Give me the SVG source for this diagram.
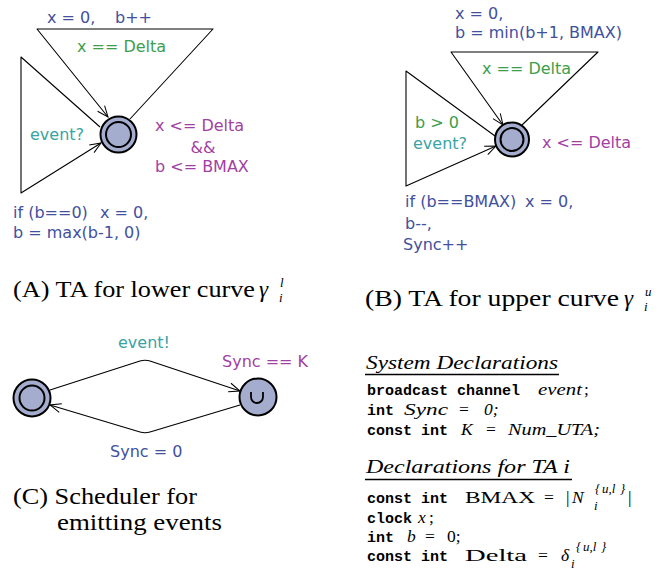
<svg xmlns="http://www.w3.org/2000/svg" width="662" height="572" viewBox="0 0 662 572">
<defs>
<marker id="arr" markerUnits="userSpaceOnUse" markerWidth="14" markerHeight="12" refX="12" refY="6" orient="auto">
<path d="M1,1.5 L12,6 L1,10.5" fill="none" stroke="#000" stroke-width="1"/>
</marker>
</defs>
<style>
.lbl{font-family:"DejaVu Sans",sans-serif;font-size:16px}
.asg{fill:#42509e}
.grd{fill:#3d9e4c}
.syn{fill:#3aa3a3}
.inv{fill:#a23fa3}
.node{fill:#a5adcf;stroke:#000;stroke-width:2}
.inner{fill:none;stroke:#000;stroke-width:2}
.edge{fill:none;stroke:#000;stroke-width:1.1;stroke-linejoin:round}
.cap{font-family:"Liberation Serif",serif;font-size:23px;fill:#000}
.hd{font-family:"Liberation Serif",serif;font-style:italic;font-size:19px;fill:#000}
.mono{font-family:"Liberation Mono",monospace;font-size:15px;font-weight:bold;fill:#000}
.mi{font-family:"Liberation Serif",serif;font-style:italic;font-size:17.5px;fill:#000}
.rm{font-family:"Liberation Serif",serif;font-size:17.5px;fill:#000}
.sup{font-family:"Liberation Serif",serif;font-style:italic;font-size:13px;fill:#000}
</style>

<g id="connectors">
<path class="edge" d="M130,119 L213,29 L37,29 L108,117" marker-end="url(#arr)"/>
<path class="edge" d="M100,127 L21,57 L21,193 L101,143" marker-end="url(#arr)"/>
<path class="edge" d="M522,125 L598,52 L451,52 L503,125" marker-end="url(#arr)"/>
<path class="edge" d="M495,136 L406,71 L406,186 L496,146" marker-end="url(#arr)"/>
<path class="edge" d="M50,390 L140,361 Q145,359.5 150,361 L240,391" marker-end="url(#arr)"/>
<path class="edge" d="M240,405 L150,432 Q145,433.5 140,432 L50,405" marker-end="url(#arr)"/>
</g>

<g id="nodeA">
<circle class="node" cx="118.5" cy="134.5" r="18"/>
<circle class="inner" cx="118.5" cy="134.5" r="12.5"/>
</g>
<g id="nodeB">
<circle class="node" cx="512" cy="139.5" r="17"/>
<circle class="inner" cx="512" cy="139.5" r="11.5"/>
</g>
<g id="nodeC1">
<circle class="node" cx="32" cy="398" r="18.5"/>
<circle class="inner" cx="32" cy="398" r="12.5"/>
</g>
<g id="nodeC2">
<circle class="node" cx="258" cy="397" r="18.5"/>
<path d="M251,392 L251,397 A6,6 0 0 0 263,397 L263,392" fill="none" stroke="#000" stroke-width="1.8"/>
</g>

<g id="labelsA" class="lbl">
<text class="asg" x="47" y="23">x = 0,</text>
<text class="asg" x="115" y="23">b++</text>
<text class="grd" x="77" y="52">x == Delta</text>
<text class="syn" x="30" y="140">event?</text>
<text class="inv" x="155" y="131">x &lt;= Delta</text>
<text class="inv" x="203" y="153" text-anchor="middle">&amp;&amp;</text>
<text class="inv" x="155" y="172">b &lt;= BMAX</text>
<text class="asg" x="13" y="218">if (b==0)</text>
<text class="asg" x="100" y="218">x = 0,</text>
<text class="asg" x="13" y="238">b = max(b-1, 0)</text>
</g>

<g id="labelsB" class="lbl">
<text class="asg" x="455" y="19">x = 0,</text>
<text class="asg" x="455" y="38">b = min(b+1, BMAX)</text>
<text class="grd" x="482" y="74">x == Delta</text>
<text class="grd" x="415" y="128">b &gt; 0</text>
<text class="syn" x="413" y="149">event?</text>
<text class="inv" x="542" y="148">x &lt;= Delta</text>
<text class="asg" x="405" y="207">if (b==BMAX)</text>
<text class="asg" x="525" y="207">x = 0,</text>
<text class="asg" x="405" y="229">b--,</text>
<text class="asg" x="403" y="250">Sync++</text>
</g>

<g id="labelsC" class="lbl">
<text class="syn" x="118" y="348">event!</text>
<text class="inv" x="222" y="367">Sync == K</text>
<text class="asg" x="110" y="457">Sync = 0</text>
</g>

<g id="captions">
<text class="cap" x="13" y="297" textLength="242" lengthAdjust="spacingAndGlyphs">(A) TA for lower curve</text>
<text class="cap" x="259" y="297" font-style="italic">γ</text>
<text class="sup" x="280" y="287">l</text>
<text class="sup" x="279" y="302">i</text>
<text class="cap" x="365" y="306" textLength="254" lengthAdjust="spacingAndGlyphs">(B) TA for upper curve</text>
<text class="cap" x="624" y="306" font-style="italic">γ</text>
<text class="sup" x="645" y="296">u</text>
<text class="sup" x="644" y="311">i</text>
<text class="cap" x="13" y="504" textLength="184" lengthAdjust="spacingAndGlyphs">(C) Scheduler for</text>
<text class="cap" x="57" y="530" textLength="165" lengthAdjust="spacingAndGlyphs">emitting events</text>
</g>

<g id="declarations">
<text class="hd" x="366" y="369" textLength="192" lengthAdjust="spacingAndGlyphs">System Declarations</text>
<line x1="365" y1="374.5" x2="559" y2="374.5" stroke="#000" stroke-width="1.6"/>
<text class="mono" x="367" y="395">broadcast channel</text>
<text class="mi" x="538" y="395" textLength="44" lengthAdjust="spacingAndGlyphs">event</text>
<text class="rm" x="584" y="395">;</text>
<text class="mono" x="367" y="415">int</text>
<text class="mi" x="404" y="415" textLength="44" lengthAdjust="spacingAndGlyphs">Sync</text>
<text class="rm" x="459" y="415">=</text>
<text class="mi" x="484" y="415">0;</text>
<text class="mono" x="367" y="435">const int</text>
<text class="mi" x="461" y="435">K</text>
<text class="rm" x="486" y="435">=</text>
<text class="mi" x="508" y="435" textLength="92" lengthAdjust="spacingAndGlyphs">Num_UTA;</text>

<text class="hd" x="366" y="473" textLength="204" lengthAdjust="spacingAndGlyphs">Declarations for TA i</text>
<line x1="365" y1="479.5" x2="572" y2="479.5" stroke="#000" stroke-width="1.6"/>
<text class="mono" x="367" y="503">const int</text>
<text class="rm" x="465" y="503" textLength="70" lengthAdjust="spacingAndGlyphs">BMAX</text>
<text class="rm" x="544" y="503">=</text>
<text class="rm" x="566" y="503">|</text>
<text class="mi" x="572" y="503">N</text>
<text class="sup" x="595" y="493" font-style="normal">{</text>
<text class="sup" x="602" y="493">u,l</text>
<text class="sup" x="620" y="493" font-style="normal">}</text>
<text class="sup" x="594" y="510">i</text>
<text class="rm" x="628" y="503">|</text>
<text class="mono" x="367" y="523">clock</text>
<text class="mi" x="418" y="523">x</text>
<text class="rm" x="429" y="523">;</text>
<text class="mono" x="367" y="542">int</text>
<text class="mi" x="407" y="542">b</text>
<text class="rm" x="425" y="542">=</text>
<text class="rm" x="447" y="542">0;</text>
<text class="mono" x="367" y="561">const int</text>
<text class="rm" x="465" y="561" textLength="62" lengthAdjust="spacingAndGlyphs">Delta</text>
<text class="rm" x="538" y="561">=</text>
<text class="mi" x="561" y="561">δ</text>
<text class="sup" x="571" y="568">i</text>
<text class="sup" x="576" y="551" font-style="normal">{</text>
<text class="sup" x="583" y="551">u,l</text>
<text class="sup" x="601" y="551" font-style="normal">}</text>
</g>
</svg>
